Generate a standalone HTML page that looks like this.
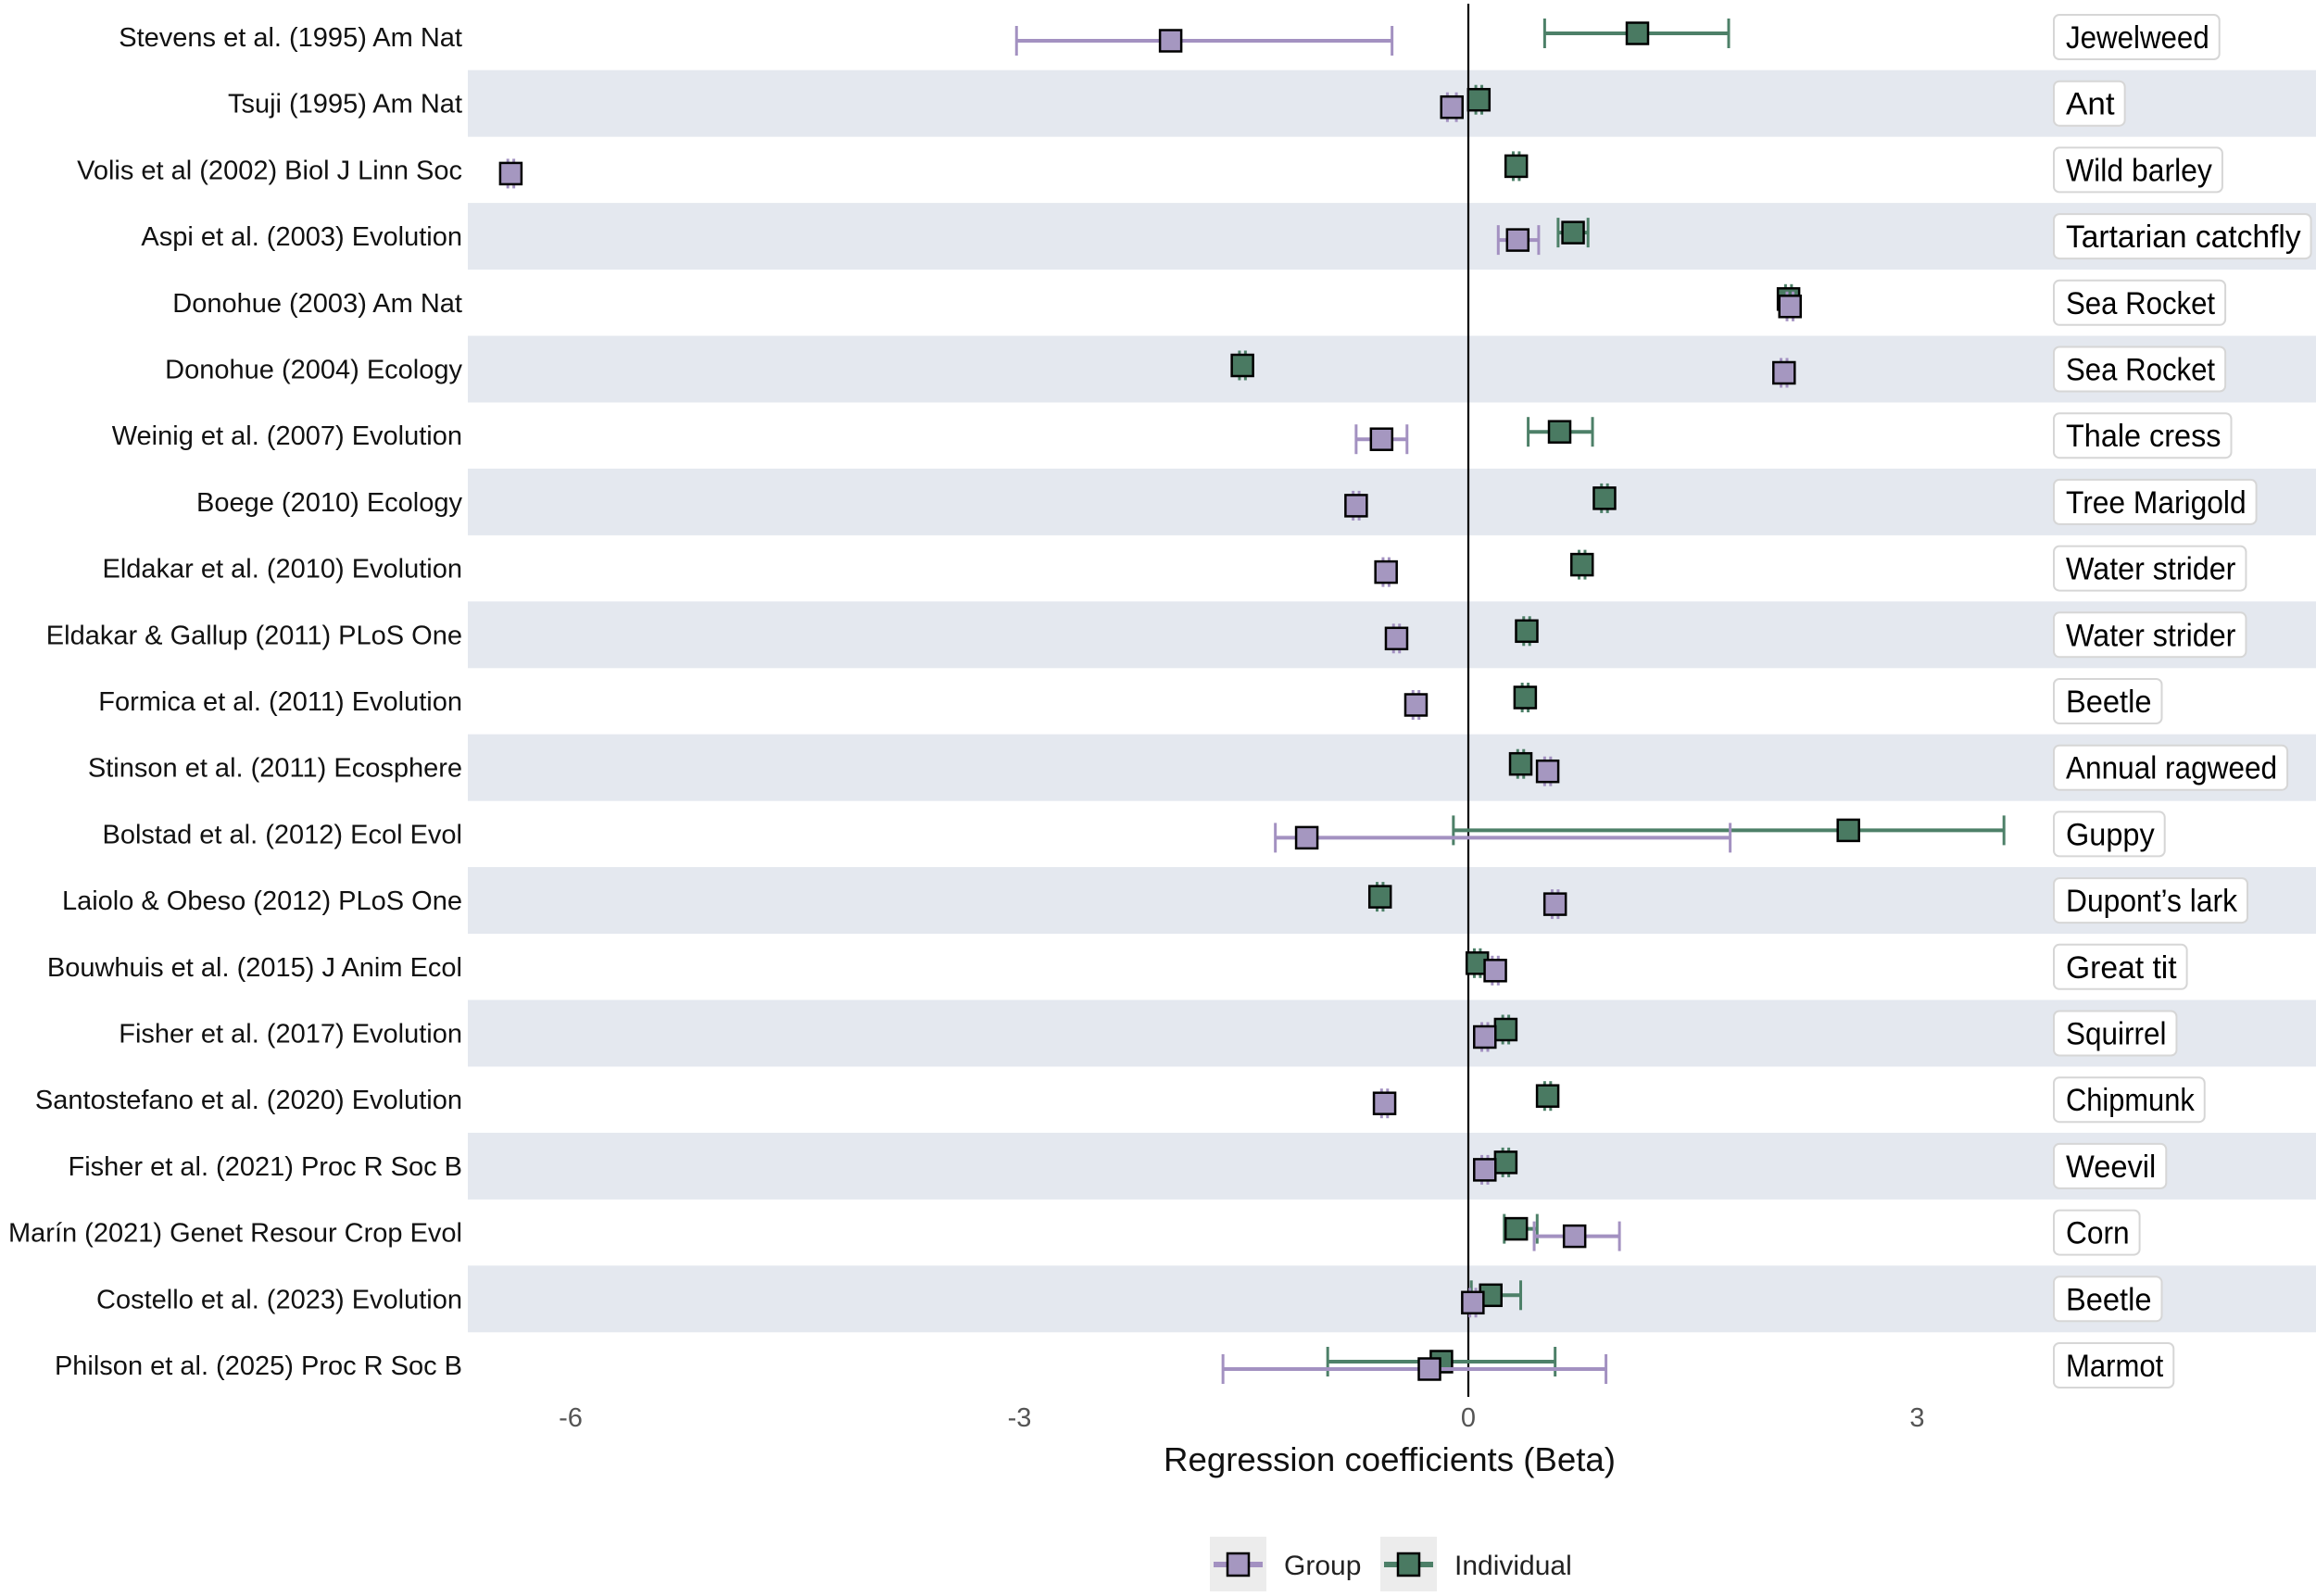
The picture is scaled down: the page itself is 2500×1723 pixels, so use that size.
<!DOCTYPE html>
<html><head><meta charset="utf-8"><style>
html,body{margin:0;padding:0;background:#fff;}
svg{display:block;font-family:"Liberation Sans","DejaVu Sans",sans-serif;}
</style></head><body>
<svg id="chart" width="2500" height="1723" viewBox="0 0 2500 1723" xmlns="http://www.w3.org/2000/svg">
<g id="bands"></g><g id="zero"></g><g id="marks"></g><g id="ylabels"></g><g id="species"></g><g id="xaxis"></g>
<g id="legend">
  <rect x="1306" y="1659" width="61" height="59" fill="#ececec"/>
  <line x1="1310" y1="1689" x2="1363" y2="1689" stroke="#a391c1" stroke-width="6"/>
  <rect x="1325" y="1677" width="23" height="24" fill="#a597c0" stroke="#000" stroke-width="2.5"/>
  <text x="1386" y="1700" font-size="30" fill="#222">Group</text>
  <rect x="1490" y="1659" width="61" height="59" fill="#ececec"/>
  <line x1="1494" y1="1689" x2="1547" y2="1689" stroke="#4d8068" stroke-width="6"/>
  <rect x="1509" y="1677" width="23" height="24" fill="#4a7a62" stroke="#000" stroke-width="2.5"/>
  <text x="1570" y="1700" font-size="30" fill="#222">Individual</text>
</g>
</svg>
<script>
const studies=["Stevens et al. (1995) Am Nat","Tsuji (1995) Am Nat","Volis et al (2002) Biol J Linn Soc","Aspi et al. (2003) Evolution","Donohue (2003) Am Nat","Donohue (2004) Ecology","Weinig et al. (2007) Evolution","Boege (2010) Ecology","Eldakar et al. (2010) Evolution","Eldakar & Gallup (2011) PLoS One","Formica et al. (2011) Evolution","Stinson et al. (2011) Ecosphere","Bolstad et al. (2012) Ecol Evol","Laiolo & Obeso (2012) PLoS One","Bouwhuis et al. (2015) J Anim Ecol","Fisher et al. (2017) Evolution","Santostefano et al. (2020) Evolution","Fisher et al. (2021) Proc R Soc B","Marín (2021) Genet Resour Crop Evol","Costello et al. (2023) Evolution","Philson et al. (2025) Proc R Soc B"];
const species=["Jewelweed","Ant","Wild barley","Tartarian catchfly","Sea Rocket","Sea Rocket","Thale cress","Tree Marigold","Water strider","Water strider","Beetle","Annual ragweed","Guppy","Dupont’s lark","Great tit","Squirrel","Chipmunk","Weevil","Corn","Beetle","Marmot"];
const groupBeta=[-1.99,-0.11,-6.40,0.33,2.15,2.11,-0.58,-0.75,-0.55,-0.48,-0.35,0.53,-1.08,0.58,0.18,0.11,-0.56,0.11,0.71,0.03,-0.26];
const groupLo=[-3.02,-0.14,-6.42,0.20,2.13,2.09,-0.75,-0.77,-0.57,-0.50,-0.37,0.51,-1.29,0.56,0.16,0.09,-0.58,0.09,0.44,0.01,-1.64];
const groupHi=[-0.51,-0.08,-6.38,0.47,2.17,2.13,-0.41,-0.73,-0.53,-0.46,-0.33,0.55,1.75,0.60,0.20,0.13,-0.54,0.13,1.01,0.05,0.92];
const indivBeta=[1.13,0.07,0.32,0.70,2.14,-1.51,0.61,0.91,0.76,0.39,0.38,0.35,2.54,-0.59,0.06,0.25,0.53,0.25,0.32,0.15,-0.18];
const indivLo=[0.51,0.05,0.30,0.60,2.12,-1.53,0.40,0.89,0.74,0.37,0.36,0.33,-0.10,-0.61,0.04,0.23,0.51,0.23,0.24,0.02,-0.94];
const indivHi=[1.74,0.09,0.34,0.80,2.16,-1.49,0.83,0.93,0.78,0.41,0.40,0.37,3.58,-0.57,0.08,0.27,0.55,0.27,0.46,0.35,0.58];
const speciesWidth=[97,33,99,159,101,101,105,122,115,115,58,143,60,116,75,68,87,61,43,58,66];
const xTicks=[-6,-3,0,3];
const xTickLabels=["-6","-3","0","3"];

const NS="http://www.w3.org/2000/svg";
const X0=1585, PXU=161.5;
const xs=v=>X0+v*PXU;
const ys=i=>40+i*71.7;
function mk(tag,attrs,parent){const e=document.createElementNS(NS,tag);for(const k in attrs)e.setAttribute(k,attrs[k]);parent.appendChild(e);return e;}
const bands=document.getElementById('bands'),marks=document.getElementById('marks'),yl=document.getElementById('ylabels'),sp=document.getElementById('species'),xa=document.getElementById('xaxis'),zero=document.getElementById('zero');

studies.forEach((s,i)=>{
  const cy=ys(i);
  if(i%2===1){
    const b=mk('rect',{x:505,y:cy-36,width:1995,height:72,fill:'#e4e8ef'},bands);
    
    
  }
  const t=mk('text',{x:499,y:cy+10,'font-size':29,'text-anchor':'end',fill:'#111'},yl);
  t.textContent=s;
  
  
  const w=speciesWidth[i]*1.595;
  const bx=mk('rect',{x:2217,y:cy-24,width:w+24,height:48,rx:6,fill:'#fff',stroke:'#d6d6d6','stroke-width':2},sp);
  
  
  const st=mk('text',{x:2230,y:cy+12,'font-size':34,fill:'#000',textLength:w,lengthAdjust:'spacingAndGlyphs'},sp);
  st.textContent=species[i];
  
  
});

const zl=mk('line',{x1:X0,y1:4,x2:X0,y2:1508,stroke:'#000','stroke-width':2.2},zero);



function series(beta,lo,hi,dy,lc,fc,name){
  beta.forEach((v,i)=>{
    const cy=ys(i)+dy;
    const g=mk('g',{},marks);
    
    
    const x1=xs(lo[i]),x2=xs(hi[i]);
    mk('line',{x1:x1,y1:cy,x2:x2,y2:cy,stroke:lc,'stroke-width':4},g);
    mk('line',{x1:x1,y1:cy-16,x2:x1,y2:cy+16,stroke:lc,'stroke-width':3},g);
    mk('line',{x1:x2,y1:cy-16,x2:x2,y2:cy+16,stroke:lc,'stroke-width':3},g);
    mk('rect',{x:xs(v)-11.5,y:cy-11.5,width:23,height:23,fill:fc,stroke:'#000','stroke-width':2.5},g);
  });
}
series(indivBeta,indivLo,indivHi,-4,'#4d8068','#4a7a62','individual');
series(groupBeta,groupLo,groupHi,4,'#a391c1','#a597c0','group');

xTicks.forEach((v,k)=>{
  const t=mk('text',{x:xs(v),y:1540,'font-size':29,'text-anchor':'middle',fill:'#555'},xa);
  t.textContent=xTickLabels[k];
  
  
});
const xt=mk('text',{x:1500,y:1588,'font-size':36,'text-anchor':'middle',fill:'#111',textLength:488,lengthAdjust:'spacingAndGlyphs'},xa);
xt.textContent='Regression coefficients (Beta)';


</script>
</body></html>
